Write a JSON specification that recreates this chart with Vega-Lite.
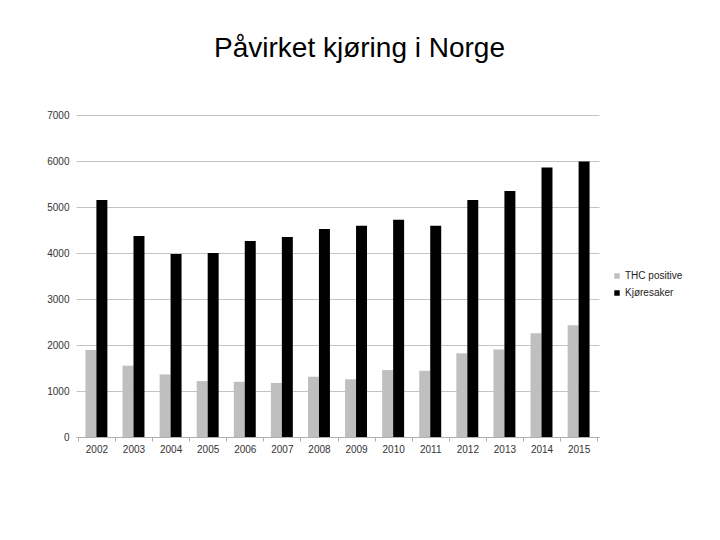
{
  "$schema": "https://vega.github.io/schema/vega-lite/v6.json",
  "autosize": "none",
  "padding": {"left": 76, "top": 115, "right": 121, "bottom": 103},
  "width": 523,
  "height": 322,
  "background": "white",
  "title": {"text": "Påvirket kjøring i Norge", "font": "Liberation Sans", "fontSize": 28, "fontWeight": "normal", "color": "#000000", "anchor": "middle", "dx": 22, "offset": 47},
  "config": {"view": {"stroke": null}, "font": "Liberation Sans"},
  "data": {"values": [
    {"year": "2002", "serie": "THC positive", "value": 1890},
    {"year": "2003", "serie": "THC positive", "value": 1550},
    {"year": "2004", "serie": "THC positive", "value": 1360},
    {"year": "2005", "serie": "THC positive", "value": 1215},
    {"year": "2006", "serie": "THC positive", "value": 1200},
    {"year": "2007", "serie": "THC positive", "value": 1175},
    {"year": "2008", "serie": "THC positive", "value": 1310},
    {"year": "2009", "serie": "THC positive", "value": 1255},
    {"year": "2010", "serie": "THC positive", "value": 1455},
    {"year": "2011", "serie": "THC positive", "value": 1440},
    {"year": "2012", "serie": "THC positive", "value": 1820},
    {"year": "2013", "serie": "THC positive", "value": 1900},
    {"year": "2014", "serie": "THC positive", "value": 2255},
    {"year": "2015", "serie": "THC positive", "value": 2430},
    {"year": "2002", "serie": "Kjøresaker", "value": 5150},
    {"year": "2003", "serie": "Kjøresaker", "value": 4370},
    {"year": "2004", "serie": "Kjøresaker", "value": 3980},
    {"year": "2005", "serie": "Kjøresaker", "value": 4000},
    {"year": "2006", "serie": "Kjøresaker", "value": 4260},
    {"year": "2007", "serie": "Kjøresaker", "value": 4350},
    {"year": "2008", "serie": "Kjøresaker", "value": 4520},
    {"year": "2009", "serie": "Kjøresaker", "value": 4590},
    {"year": "2010", "serie": "Kjøresaker", "value": 4725},
    {"year": "2011", "serie": "Kjøresaker", "value": 4590},
    {"year": "2012", "serie": "Kjøresaker", "value": 5150},
    {"year": "2013", "serie": "Kjøresaker", "value": 5350},
    {"year": "2014", "serie": "Kjøresaker", "value": 5860},
    {"year": "2015", "serie": "Kjøresaker", "value": 5990}
  ]},
  "mark": {"type": "bar"},
  "encoding": {
    "x": {"field": "year", "type": "nominal", "title": null,
      "scale": {"paddingInner": 0, "paddingOuter": 0.05},
      "axis": {"labelAngle": 0, "labelFontSize": 10, "labelColor": "#333333", "labelPadding": 3, "domainColor": "#b0b0b0", "tickColor": "#b0b0b0", "tickBand": "extent", "tickSize": 4, "grid": false}},
    "xOffset": {"field": "serie", "type": "nominal", "sort": ["THC positive", "Kjøresaker"],
      "scale": {"paddingInner": 0, "paddingOuter": 0.69}},
    "y": {"field": "value", "type": "quantitative", "title": null,
      "scale": {"domain": [0, 7000], "nice": false},
      "axis": {"values": [0, 1000, 2000, 3000, 4000, 5000, 6000, 7000], "format": "d", "labelFontSize": 10, "labelColor": "#333333", "labelPadding": 7, "domain": false, "ticks": false, "gridColor": "#c4c4c4", "gridWidth": 1}},
    "color": {"field": "serie", "type": "nominal", "title": null,
      "scale": {"domain": ["THC positive", "Kjøresaker"], "range": ["#bfbfbf", "#000000"]},
      "legend": {"orient": "none", "legendX": 536, "legendY": 156, "symbolType": "square", "symbolSize": 30, "labelFontSize": 10, "labelColor": "#222222", "rowPadding": 7, "labelOffset": 3}}
  }
}
